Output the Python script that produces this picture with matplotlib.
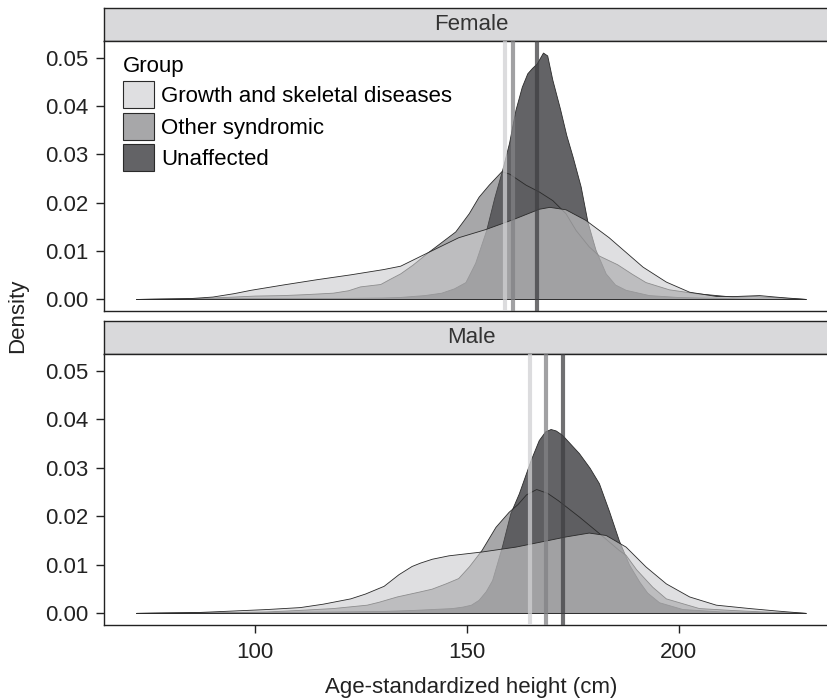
import matplotlib
matplotlib.use("Agg")
import matplotlib.pyplot as plt
from matplotlib.patches import Patch

plt.rcParams['font.family'] = ['Liberation Sans', 'DejaVu Sans']

groups = ["Growth and skeletal diseases", "Other syndromic", "Unaffected"]

# female densities
f_growth_x = [72, 80, 85, 90, 95, 99, 106.6, 114.6, 122.5, 130.3, 134.3, 138, 141, 148, 154.4,
              160.7, 167, 169.5, 173.3, 178, 183.5, 185.2, 191.5, 197, 202.5, 209, 213, 219, 224, 230]
f_growth_y = [0, 0.0001, 0.0002, 0.0005, 0.0012, 0.0019, 0.003, 0.0041, 0.0051, 0.0062, 0.0069, 0.0085,
              0.0098, 0.0128, 0.0145, 0.0165, 0.0187, 0.0191, 0.0186, 0.0164, 0.0128, 0.0115, 0.0067,
              0.0036, 0.0015, 0.0006, 0.0006, 0.0008, 0.0004, 0]
f_other_x = [72, 85, 95, 100, 106.6, 112, 118.4, 122, 124.8, 129.6, 131.9, 134.3, 137.2, 141, 147.3,
             150.5, 152.8, 155.2, 158.2, 160, 163.9, 167, 170.2, 173.3, 175.7, 178.8, 181.2, 185.5,
             189, 192.2, 197.7, 204, 212.6, 218, 222, 230]
f_other_y = [0, 0.0001, 0.0005, 0.0007, 0.0008, 0.001, 0.0013, 0.0018, 0.0026, 0.0031, 0.0042, 0.0053,
             0.0071, 0.0098, 0.014, 0.0178, 0.0212, 0.0237, 0.0265, 0.026, 0.0237, 0.0223, 0.0205,
             0.0178, 0.0143, 0.0109, 0.009, 0.0072, 0.0052, 0.0035, 0.002, 0.0012, 0.0005, 0.0006,
             0.0004, 0]
f_unaff_x = [72, 100, 120, 130, 134, 140, 144, 147, 149.7, 152, 154.6, 156.5, 158.5, 160, 161.5, 163,
             164.3, 165.4, 166.5, 168, 169, 170.2, 172, 173.5, 175, 176.9, 178.5, 180.4, 182.8, 185,
             187.5, 193, 200, 205, 215, 230]
f_unaff_y = [0, 0.0002, 0.0002, 0.0003, 0.0004, 0.0008, 0.0013, 0.0022, 0.0035, 0.0075, 0.0143, 0.021,
             0.0272, 0.0324, 0.0392, 0.044, 0.0468, 0.0479, 0.0488, 0.0511, 0.0505, 0.0455, 0.0395,
             0.034, 0.0295, 0.0233, 0.016, 0.0102, 0.0053, 0.003, 0.0019, 0.0008, 0.0004, 0.0003,
             0.0001, 0]

# male densities
m_growth_x = [72, 80, 87, 95, 102.8, 110.6, 116, 122.5, 126, 130.4, 133.9, 137, 139, 141.8, 145.7,
              153.6, 161.5, 169.4, 173.3, 178.8, 182.8, 187.5, 192.2, 197, 202.5, 208.8, 216.7, 223, 230]
m_growth_y = [0, 0.0001, 0.0002, 0.0005, 0.0008, 0.0012, 0.0019, 0.003, 0.004, 0.0056, 0.008, 0.0097,
              0.0104, 0.0112, 0.0119, 0.0127, 0.0137, 0.0151, 0.0158, 0.0166, 0.0161, 0.0137, 0.0096,
              0.0061, 0.0034, 0.0017, 0.001, 0.0005, 0]
m_other_x = [72, 90, 102.8, 110, 118.4, 126.4, 129.2, 133.5, 138.7, 141.7, 145, 148, 150.5, 153.5,
             156.8, 159.9, 162, 164, 166.4, 169, 171.5, 176.5, 181.2, 185.9, 187.5, 190, 193.8, 197,
             204.8, 212.6, 220, 230]
m_other_y = [0, 0.0001, 0.0003, 0.0006, 0.001, 0.0017, 0.0023, 0.0034, 0.0044, 0.005, 0.0061, 0.0072,
             0.0096, 0.013, 0.0178, 0.0209, 0.0225, 0.0245, 0.0256, 0.0248, 0.0233, 0.0199, 0.0165,
             0.013, 0.012, 0.009, 0.0054, 0.003, 0.001, 0.0006, 0.0003, 0]
m_unaff_x = [72, 100, 120, 130, 137, 146.5, 149, 151, 152.8, 154.5, 156, 158.3, 160.3, 162.3, 165.1,
             167, 168.5, 169.8, 171, 172.5, 176.5, 179, 181.2, 183.6, 185.9, 188.3, 190.7, 192.6,
             195.4, 200.9, 210, 230]
m_unaff_y = [0, 0.0002, 0.0003, 0.0004, 0.0006, 0.001, 0.0013, 0.0017, 0.0027, 0.0045, 0.0068, 0.0137,
             0.0206, 0.0247, 0.0316, 0.0357, 0.0375, 0.038, 0.0377, 0.0368, 0.033, 0.03, 0.0268,
             0.021, 0.015, 0.01, 0.0065, 0.0042, 0.0022, 0.0008, 0.0003, 0]

# group means (vertical lines)
f_means = [159.0, 160.9, 166.7]
m_means = [165.0, 168.8, 172.8]

fill_cols = [(204/255, 204/255, 206/255, 0.61), (90/255, 90/255, 93/255, 0.53), (99/255, 99/255, 102/255, 1.0)]
line_cols = ["#d1d1d3", "#828285", "#404043"]
edge = "#2a2a2a"
FS = 16

W, H = 828, 698
fig = plt.figure(figsize=(W / 100, H / 100), dpi=100)


def px_axes(x0, y0, x1, y1):
    return fig.add_axes([x0 / W, (H - y1) / H, (x1 - x0) / W, (y1 - y0) / H])


panels = [
    ("Female", (8, 41, 311), [(f_growth_x, f_growth_y), (f_other_x, f_other_y), (f_unaff_x, f_unaff_y)], f_means),
    ("Male", (321, 354, 625), [(m_growth_x, m_growth_y), (m_other_x, m_other_y), (m_unaff_x, m_unaff_y)], m_means),
]

axes = []
for i, (name, (s_top, p_top, p_bot), series, means) in enumerate(panels):
    strip = px_axes(104, s_top, 840, p_top)
    strip.set_facecolor("#d9d9db")
    strip.set_xticks([])
    strip.set_yticks([])
    for sp in strip.spines.values():
        sp.set_color("#222222")
        sp.set_linewidth(1.0)
    fig.text(471.5 / W, (H - (s_top + p_top) / 2) / H, name, ha="center", va="center",
             fontsize=FS, color="#333333")

    ax = px_axes(104, p_top, 840, p_bot)
    # draw order: Unaffected, Other, Growth (growth ends up on top)
    for k in [2, 1, 0]:
        xs, ys = series[k]
        ax.fill_between(xs, 0, ys, facecolor=fill_cols[k], edgecolor=edge, linewidth=0.6, zorder=2 + (2 - k))
    for k in range(3):
        ax.axvline(means[k], color=line_cols[k], alpha=0.75, linewidth=3, zorder=6)

    ax.set_xlim(64.4, 238.1)
    ax.set_ylim(-0.0025, 0.0535)
    ax.set_yticks([0, 0.01, 0.02, 0.03, 0.04, 0.05])
    ax.set_yticklabels(["0.00", "0.01", "0.02", "0.03", "0.04", "0.05"])
    ax.tick_params(axis="y", length=6, width=1, color="#222222", labelsize=FS, labelcolor="#222222", pad=5)
    for sp in ax.spines.values():
        sp.set_color("#222222")
        sp.set_linewidth(1.0)
    if i == 0:
        ax.set_xticks([])
    else:
        ax.set_xticks([100, 150, 200])
        ax.tick_params(axis="x", length=6, width=1, color="#222222", labelsize=FS, labelcolor="#222222", pad=6)
    axes.append(ax)

handles = [Patch(facecolor=fill_cols[k], edgecolor=edge, linewidth=0.8, label=groups[k]) for k in range(3)]
leg = axes[0].legend(handles=handles, title="Group", loc="upper left", bbox_to_anchor=(0.008, 0.995),
                     frameon=False, fontsize=FS, title_fontsize=FS, handlelength=1.4, handleheight=1.5,
                     labelspacing=0.2, handletextpad=0.3, borderaxespad=0.2)
leg._legend_box.align = "left"

fig.text(18 / W, (H - 316) / H, "Density", rotation=90, ha="center", va="center", fontsize=FS, color="#222222")
fig.text(471.5 / W, (H - 687) / H, "Age-standardized height (cm)", ha="center", va="center",
         fontsize=FS, color="#222222")

fig.savefig("out.png", dpi=100)
